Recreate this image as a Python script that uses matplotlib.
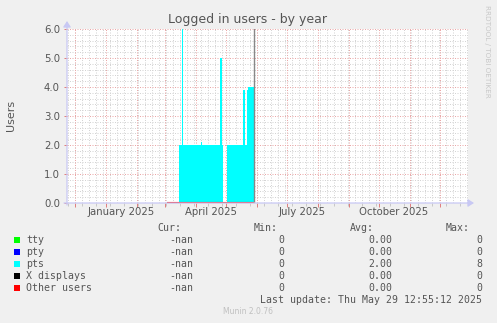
import numpy as np
import pandas as pd
import matplotlib
matplotlib.use("Agg")
import matplotlib.pyplot as plt
import matplotlib.dates as mdates

# ---------------- data ----------------
title = "Logged in users - by year"
ylabel = "Users"
x_start = "2024-11-23"
x_end = "2025-12-29"
now_date = "2025-05-29"

# pts (cyan area) runs: start day, end day (exclusive), level
pts_starts = ["2025-03-03", "2025-03-15", "2025-03-18", "2025-03-19", "2025-04-06", "2025-04-07",
              "2025-04-25", "2025-04-27", "2025-04-28", "2025-05-02", "2025-05-18", "2025-05-20",
              "2025-05-22", "2025-05-23"]
pts_ends = ["2025-03-15", "2025-03-18", "2025-03-19", "2025-04-06", "2025-04-07", "2025-04-25",
            "2025-04-27", "2025-04-28", "2025-05-02", "2025-05-18", "2025-05-20", "2025-05-22",
            "2025-05-23", "2025-05-29"]
pts_levels = [0.0, 2.0, 6.0, 2.0, 2.1, 2.0, 5.0, 2.0, np.nan, 2.0, 3.9, 2.0, 3.9, 4.0]

other_start = "2025-03-03"
other_end = "2025-05-29"

month_labels = ["January 2025", "April 2025", "July 2025", "October 2025"]
month_label_dates = ["2025-01-16", "2025-04-16", "2025-07-16", "2025-10-16"]

legend_names = ["tty", "pty", "pts", "X displays", "Other users"]
legend_colors = ["#00FF00", "#0000FF", "#00FFFF", "#000000", "#FF0000"]
legend_cur = ["-nan", "-nan", "-nan", "-nan", "-nan"]
legend_min = ["0", "0", "0", "0", "0"]
legend_avg = ["0.00", "0.00", "2.00", "0.00", "0.00"]
legend_max = ["0", "0", "8", "0", "0"]
last_update = "Last update: Thu May 29 12:55:12 2025"
munin_ver = "Munin 2.0.76"
watermark = "RRDTOOL / TOBI OETIKER"

# ---------------- figure ----------------
W, H = 497, 323
fig = plt.figure(figsize=(W / 100, H / 100), dpi=100, facecolor="#F0F0F0")
L, R, T, B = 67, 468, 29, 203
ax = fig.add_axes([L / W, 1 - B / H, (R - L) / W, (B - T) / H])
ax.set_facecolor("white")

d = lambda s: mdates.date2num(pd.Timestamp(s))
ax.set_xlim(d(x_start), d(x_end))
ax.set_ylim(0, 6)

# grid
dot = (0, (1, 1.5))
minor_col = "#D4D4D4"
major_col = "#EAA8A8"
gkw = dict(lw=0.72, ls=dot)
for v in np.arange(0, 6.01, 0.2):
    if abs(v - round(v)) > 1e-6:
        ax.axhline(v, color=minor_col, zorder=1, **gkw)
weeks = pd.date_range(x_start, x_end, freq="W-SUN")
for w in weeks:
    ax.axvline(mdates.date2num(w), color=minor_col, zorder=1, **gkw)
months = pd.date_range("2024-12-01", x_end, freq="MS")
for m in months:
    ax.axvline(mdates.date2num(m), color=major_col, zorder=1.5, **gkw)
for v in range(0, 7):
    ax.axhline(v, color=major_col, zorder=1.5, **gkw)

# pts area
edges = []
vals = []
for s, e, v in zip(pts_starts, pts_ends, pts_levels):
    edges.append(d(s)); vals.append(v)
    edges.append(d(e)); vals.append(v)
edges = np.array(edges); vals = np.array(vals, dtype=float)
ax.fill_between(edges, 0, vals, color="#00FFFF", lw=0, zorder=2)

# other users line at zero
ax.plot([d(other_start), d(other_end)], [0.02, 0.02], color="#FF0000", lw=0.8, zorder=3, clip_on=False)
# now line
ax.axvline(d(now_date), color="#888888", lw=1.0, zorder=3)

for sp in ax.spines.values():
    sp.set_visible(False)

ax.set_xticks([mdates.date2num(m) for m in months])
ax.set_xticklabels([])
ax.tick_params(axis="x", length=3, width=0.72, color="#E08080", direction="out")
ax.set_xticks([mdates.date2num(w) for w in weeks[::2]], minor=True)
ax.tick_params(axis="x", which="minor", length=2, width=0.72, color="#C8C8C8", direction="out")
ax.set_yticks(range(0, 7))
ax.set_yticklabels([f"{v:.1f}" for v in range(0, 7)], fontsize=7.3, color="#555555")
ax.tick_params(axis="y", length=2, width=0.72, color="#E08080", pad=3)
for lbl, ld in zip(month_labels, month_label_dates):
    ax.text(d(ld), -0.14, lbl, ha="center", va="top", fontsize=7.3, color="#555555")

# axes arrows
axis_col = "#C8C8F4"
akw = dict(transform=fig.transFigure, arrowstyle="-|>,head_length=2.5,head_width=1.6",
           color=axis_col, lw=0.9, mutation_scale=1.4, shrinkA=0, shrinkB=0)
fig.add_artist(matplotlib.patches.FancyArrowPatch(
    (L / W, 1 - (B + 2) / H), (L / W, 1 - 21 / H), **akw))
fig.add_artist(matplotlib.patches.FancyArrowPatch(
    ((L - 3) / W, 1 - B / H), ((R + 6) / W, 1 - B / H), **akw))

# title and labels
fig.text(248 / W, 1 - 19 / H, title, ha="center", va="center", fontsize=9, color="#555555")
fig.text(11 / W, 1 - 115 / H, ylabel, ha="center", va="center", rotation=90, fontsize=8, color="#555555")
fig.text(487 / W, 1 - 5 / H, watermark, ha="center", va="top", rotation=270, fontsize=5.2, color="#C8C8C8")

# legend
mono = dict(family="DejaVu Sans Mono", fontsize=7.1, color="#555555")
hy = 228
fig.text(181.7 / W, 1 - hy / H, "Cur:", ha="right", va="center", **mono)
fig.text(277.7 / W, 1 - hy / H, "Min:", ha="right", va="center", **mono)
fig.text(373.5 / W, 1 - hy / H, "Avg:", ha="right", va="center", **mono)
fig.text(470 / W, 1 - hy / H, "Max:", ha="right", va="center", **mono)
for i, (n, c) in enumerate(zip(legend_names, legend_colors)):
    y = 240 + 12 * i
    fig.add_artist(matplotlib.patches.Rectangle((14 / W, 1 - (y + 3) / H), 6 / W, 6 / H,
                                                transform=fig.transFigure, facecolor=c, edgecolor="none"))
    fig.text(26 / W, 1 - y / H, n, ha="left", va="center", **mono)
    fig.text(193.7 / W, 1 - y / H, legend_cur[i], ha="right", va="center", **mono)
    fig.text(284 / W, 1 - y / H, legend_min[i], ha="right", va="center", **mono)
    fig.text(392 / W, 1 - y / H, legend_avg[i], ha="right", va="center", **mono)
    fig.text(482 / W, 1 - y / H, legend_max[i], ha="right", va="center", **mono)
fig.text(482 / W, 1 - 300 / H, last_update, ha="right", va="center", **mono)
fig.text(248 / W, 1 - 312 / H, munin_ver, ha="center", va="center", fontsize=5.5, color="#C0C0C0")

fig.savefig("out.png", dpi=100, facecolor=fig.get_facecolor())
